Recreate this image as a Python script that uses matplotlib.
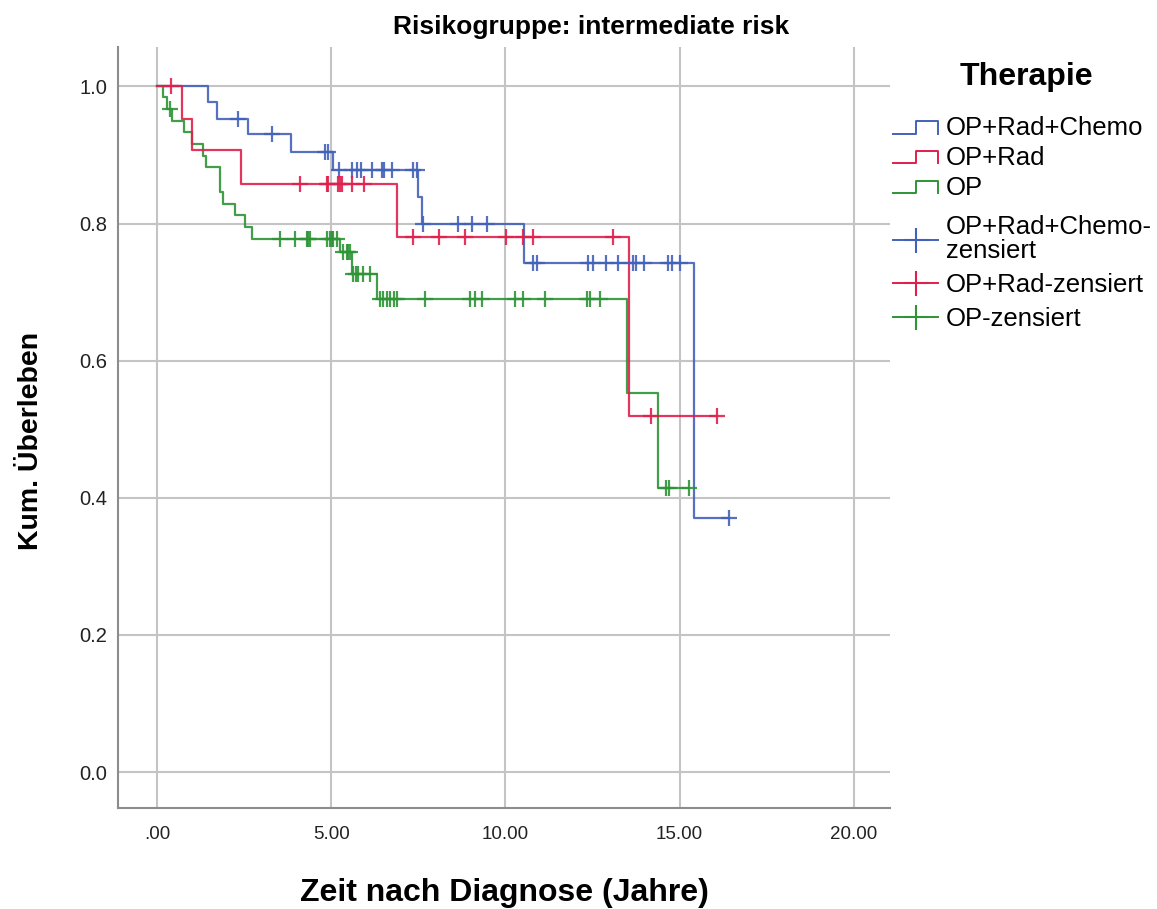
import numpy as np
import matplotlib.pyplot as plt
from matplotlib.lines import Line2D
from matplotlib.legend_handler import HandlerBase

plt.rcParams['font.family'] = ['Liberation Sans', 'DejaVu Sans']

# Kaplan-Meier Stufen (Zeit, Überleben) und zensierte Zeitpunkte
blue_t = [1.46, 1.71, 2.62, 3.84, 5.04, 7.50, 7.60, 10.54, 15.40]
blue_s = [0.977, 0.953, 0.930, 0.904, 0.878, 0.839, 0.799, 0.742, 0.370]
blue_c = [2.33, 3.29, 4.82, 4.92, 5.22, 5.59, 5.73, 5.84, 6.16, 6.45, 6.51, 6.73,
          7.36, 7.45, 7.64, 8.65, 9.03, 9.48, 10.80, 10.90, 12.38, 12.52, 12.90,
          13.24, 13.67, 13.76, 13.97, 14.67, 14.77, 15.01, 16.42]

red_t = [0.71, 0.99, 2.40, 6.90, 13.55]
red_s = [0.953, 0.907, 0.858, 0.780, 0.520]
red_c = [0.39, 4.10, 4.87, 4.92, 5.20, 5.25, 5.30, 5.59, 5.94, 7.36, 8.09, 8.84,
         10.03, 10.49, 10.80, 13.09, 14.17, 16.06]

green_t = [0.18, 0.30, 0.42, 0.76, 0.99, 1.33, 1.40, 1.81, 1.90, 2.24, 2.53, 2.72,
           5.25, 5.59, 6.32, 13.48, 14.39]
green_s = [0.984, 0.967, 0.950, 0.933, 0.916, 0.899, 0.882, 0.846, 0.829, 0.812,
           0.795, 0.778, 0.758, 0.727, 0.690, 0.553, 0.414]
green_c = [0.36, 3.53, 3.96, 4.30, 4.34, 4.39, 4.87, 4.96, 5.01, 5.06, 5.16, 5.35,
           5.44, 5.49, 5.54, 5.63, 5.70, 5.78, 5.92, 6.11, 6.40, 6.50, 6.60, 6.70,
           6.80, 6.88, 7.69, 8.98, 9.12, 9.32, 10.27, 10.51, 11.13, 12.33, 12.43,
           12.71, 14.62, 14.70, 15.27]

labels = ['OP+Rad+Chemo', 'OP+Rad', 'OP']
cens_labels = ['OP+Rad+Chemo-\nzensiert', 'OP+Rad-zensiert', 'OP-zensiert']
colors = ['#4262b8', '#e0204c', '#2e9436']

xticks = [0, 5, 10, 15, 20]
xticklabels = ['.00', '5.00', '10.00', '15.00', '20.00']
yticks = [0.0, 0.2, 0.4, 0.6, 0.8, 1.0]


class StepHandler(HandlerBase):
    # Legendensymbol als kleine Treppe wie in SPSS
    def create_artists(self, legend, orig_handle, xdescent, ydescent,
                       width, height, fontsize, trans):
        x0 = -xdescent
        y0 = -ydescent
        xs = [x0, x0 + width * 0.5, x0 + width * 0.5, x0 + width, x0 + width]
        ys = [y0 + height * 0.1, y0 + height * 0.1, y0 + height * 0.8,
              y0 + height * 0.8, y0 + height * 0.1]
        line = Line2D(xs, ys, color=orig_handle.get_color(), lw=1.4)
        line.set_transform(trans)
        return [line]


fig = plt.figure(figsize=(11.57, 9.09), dpi=100)
ax = fig.add_axes([0.102, 0.111, 0.667, 0.837])

groups = [(blue_t, blue_s, blue_c, 0), (green_t, green_s, green_c, 2),
          (red_t, red_s, red_c, 1)]
for t, s, c, k in groups:
    tt = np.array([0.0] + t)
    ss = np.array([1.0] + s)
    t_end = max(max(c), tt[-1])
    xs = np.append(tt, t_end)
    ys = np.append(ss, ss[-1])
    ax.step(xs, ys, where='post', color=colors[k], lw=1.6, alpha=0.9, zorder=3)
    c = np.array(c)
    cy = ss[np.searchsorted(tt, c, side='right') - 1]
    ax.plot(c, cy, ls='none', marker='+', ms=12, mew=1.6, color=colors[k],
            alpha=0.9, zorder=4)

ax.set_xlim(-1.12, 21.03)
ax.set_ylim(-0.0525, 1.057)
ax.set_xticks(xticks)
ax.set_xticklabels(xticklabels)
ax.set_yticks(yticks)
ax.set_yticklabels(['%.1f' % v for v in yticks])
ax.tick_params(length=0, colors='#222222')
ax.tick_params(axis='x', pad=13, labelsize=13.5)
ax.tick_params(axis='y', pad=7.5, labelsize=14.5)
ax.grid(True, color='#c4c4c4', lw=1.5)
ax.set_axisbelow(True)
for side in ['top', 'right']:
    ax.spines[side].set_visible(False)
for side in ['left', 'bottom']:
    ax.spines[side].set_color('#8c8c8c')
    ax.spines[side].set_linewidth(1.5)

ax.set_xlabel('Zeit nach Diagnose (Jahre)', fontsize=23, fontweight='bold')
ax.xaxis.set_label_coords(0.501, -0.092)
ax.set_ylabel('Kum. Überleben', fontsize=20.5, fontweight='bold')
ax.yaxis.set_label_coords(-0.096, 0.482)
fig.text(0.511, 0.970, 'Risikogruppe: intermediate risk', fontsize=19,
         fontweight='bold', ha='center', va='center')

# Legende: Titel, Stufen-Einträge, zensierte Einträge
fig.text(0.887, 0.915, 'Therapie', fontsize=23, fontweight='bold',
         ha='center', va='center')

step_handles = [Line2D([], [], color=col) for col in colors]
leg1 = fig.legend(step_handles, labels,
                  handler_map={h: StepHandler() for h in step_handles},
                  loc='upper left', bbox_to_anchor=(0.772, 0.872),
                  frameon=False, fontsize=18.5,
                  handlelength=1.75, handletextpad=0.3, labelspacing=0.23,
                  borderpad=0, borderaxespad=0)

cens_handles = [Line2D([], [], color=col, marker='+', ms=18, mew=1.5, lw=1.4)
                for col in colors]
leg2 = fig.legend(cens_handles, cens_labels,
                  loc='upper left', bbox_to_anchor=(0.772, 0.763),
                  frameon=False, fontsize=18.5,
                  handlelength=1.75, handletextpad=0.3, labelspacing=0.39,
                  borderpad=0, borderaxespad=0, numpoints=1)
leg2.get_texts()[0].set_linespacing(1.0)

fig.savefig('out.png', dpi=100)
